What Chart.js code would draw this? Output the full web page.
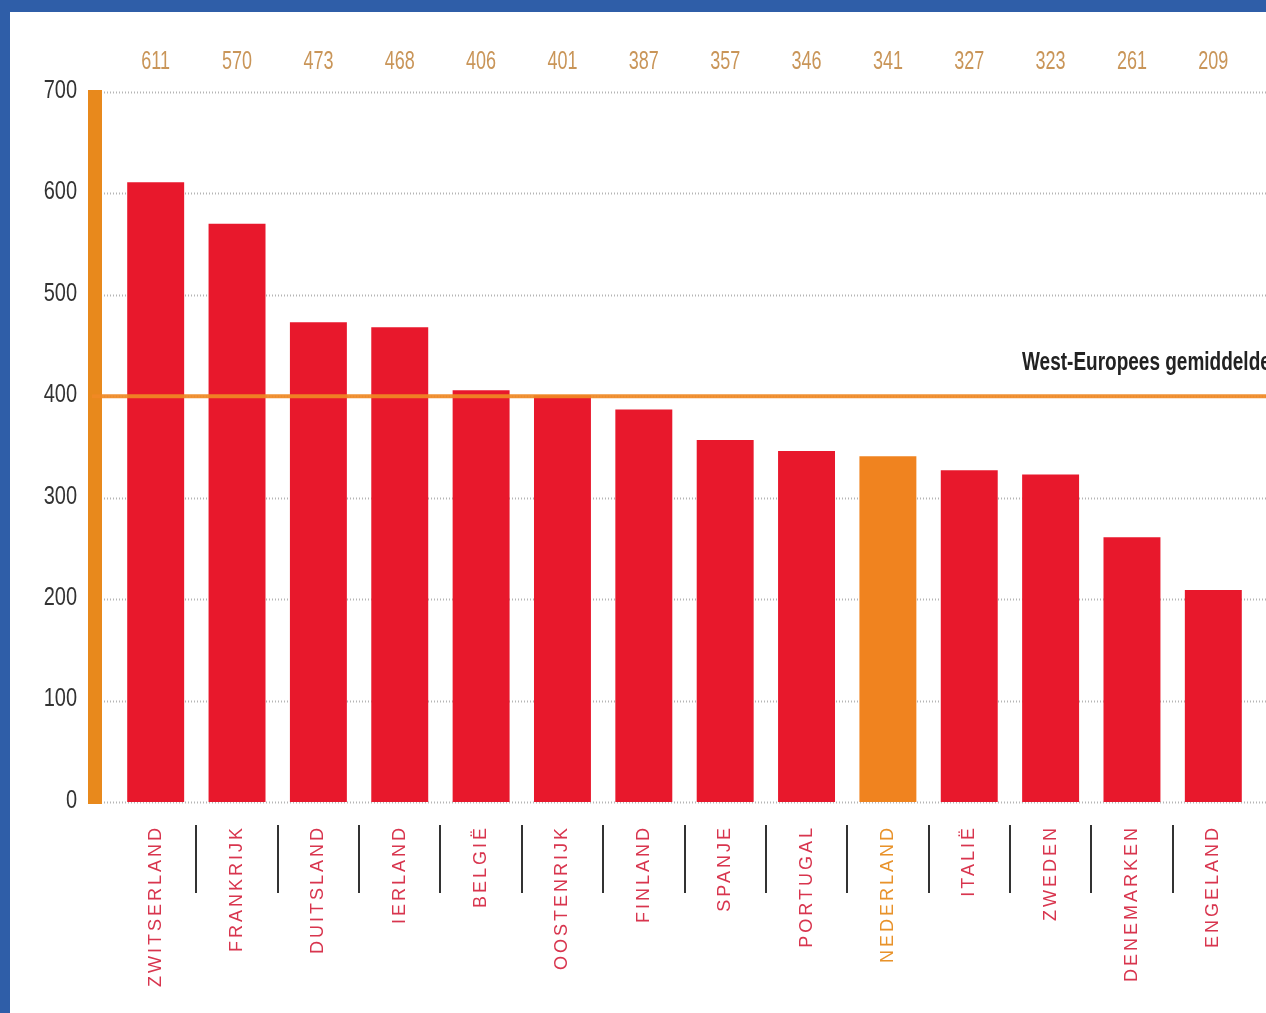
<!DOCTYPE html>
<html>
<head>
<meta charset="utf-8">
<script src="https://cdn.jsdelivr.net/npm/chart.js@4"></script>
<style>
  html, body { margin: 0; padding: 0; }
  body { background: #2f5ea8; width: 1266px; height: 1013px; overflow: hidden; position: relative; }
  #frame { position: absolute; left: 10px; top: 12px; width: 1256px; height: 1001px; background: #fff; }
</style>
</head>
<body>
<div id="frame"><canvas id="chart"></canvas></div>
<script>
const COUNTRIES = ['ZWITSERLAND', 'FRANKRIJK', 'DUITSLAND', 'IERLAND', 'BELGIË', 'OOSTENRIJK', 'FINLAND',
  'SPANJE', 'PORTUGAL', 'NEDERLAND', 'ITALIË', 'ZWEDEN', 'DENEMARKEN', 'ENGELAND'];
const VALUES = [611, 570, 473, 468, 406, 401, 387, 357, 346, 341, 327, 323, 261, 209];
const HIGHLIGHT = 'NEDERLAND';
const AVERAGE = 400;
const AVERAGE_LABEL = 'West-Europees gemiddelde';
const Y_TICKS = [0, 100, 200, 300, 400, 500, 600, 700];

const RED = '#e8182c';
const ORANGE = '#f0831f';
const AXIS_ORANGE = '#e8891c';
const SANS = '"Liberation Sans", Arial, sans-serif';

// squeeze text horizontally to get a condensed look
function narrowText(ctx, text, x, y, sx) {
  ctx.save();
  ctx.translate(x, y);
  ctx.scale(sx, 1);
  ctx.fillText(text, 0, 0);
  ctx.restore();
}

// dotted guides, orange axis bar, average line and all the hand-placed texts
const decorations = {
  id: 'decorations',
  beforeDatasetsDraw(chart) {
    const { ctx, scales: { y }, width } = chart;
    ctx.save();
    ctx.strokeStyle = '#b5b5b5';
    ctx.lineWidth = 2;
    ctx.setLineDash([1, 2]);
    Y_TICKS.forEach(v => {
      const py = Math.round(y.getPixelForValue(v)) + 0.5;
      ctx.beginPath();
      ctx.moveTo(94, py);
      ctx.lineTo(width, py);
      ctx.stroke();
    });
    ctx.setLineDash([]);
    const top = y.getPixelForValue(Y_TICKS[Y_TICKS.length - 1]) - 2;
    const bottom = y.getPixelForValue(0) + 2;
    ctx.fillStyle = AXIS_ORANGE;
    ctx.fillRect(78, top, 14, bottom - top);

    // y tick labels
    ctx.fillStyle = '#333';
    ctx.font = `25px ${SANS}`;
    ctx.textAlign = 'right';
    ctx.textBaseline = 'middle';
    Y_TICKS.forEach(v => narrowText(ctx, String(v), 67, y.getPixelForValue(v) - 1, 0.8));
    ctx.restore();
  },
  afterDatasetsDraw(chart) {
    const { ctx, scales: { x, y }, width } = chart;
    ctx.save();

    // average line over the bars
    const ay = y.getPixelForValue(AVERAGE);
    ctx.strokeStyle = 'rgba(240,137,36,0.92)';
    ctx.lineWidth = 4;
    ctx.beginPath();
    ctx.moveTo(82, ay);
    ctx.lineTo(width, ay);
    ctx.stroke();

    ctx.fillStyle = '#222';
    ctx.font = `bold 25px ${SANS}`;
    ctx.textAlign = 'left';
    ctx.textBaseline = 'middle';
    narrowText(ctx, AVERAGE_LABEL, 1012, ay - 33, 0.76);

    // values above the plot
    ctx.font = `25px ${SANS}`;
    ctx.textAlign = 'center';
    ctx.fillStyle = '#c99558';
    VALUES.forEach((v, i) => narrowText(ctx, String(v), x.getPixelForValue(i), 50, 0.72));

    // rotated country names
    const labelTop = y.getPixelForValue(0) + 23;
    ctx.font = `18px ${SANS}`;
    ctx.letterSpacing = '3px';
    ctx.textAlign = 'right';
    COUNTRIES.forEach((name, i) => {
      ctx.save();
      ctx.translate(x.getPixelForValue(i), labelTop);
      ctx.rotate(-Math.PI / 2);
      ctx.fillStyle = name === HIGHLIGHT ? '#e8922a' : '#d8354e';
      ctx.fillText(name, 0, 0);
      ctx.restore();
    });
    ctx.letterSpacing = '0px';

    // separators between countries
    ctx.strokeStyle = '#333';
    ctx.lineWidth = 2;
    for (let i = 0; i < COUNTRIES.length - 1; i++) {
      const sx = Math.round((x.getPixelForValue(i) + x.getPixelForValue(i + 1)) / 2);
      ctx.beginPath();
      ctx.moveTo(sx, labelTop);
      ctx.lineTo(sx, labelTop + 68);
      ctx.stroke();
    }
    ctx.restore();
  },
};

new Chart(document.getElementById('chart'), {
  type: 'bar',
  data: {
    labels: COUNTRIES,
    datasets: [{
      data: VALUES,
      backgroundColor: COUNTRIES.map(c => c === HIGHLIGHT ? ORANGE : RED),
      barPercentage: 0.7,
      categoryPercentage: 1,
    }],
  },
  options: {
    responsive: true,
    maintainAspectRatio: false,
    animation: false,
    layout: { padding: { left: 0, right: 12, top: 80, bottom: 211 } },
    plugins: { legend: { display: false }, tooltip: { enabled: false } },
    scales: {
      x: { display: false },
      y: {
        min: 0,
        max: 700,
        grid: { display: false },
        border: { display: false },
        afterFit(scale) { scale.width = 105; },
        ticks: { display: false, stepSize: 100 },
      },
    },
  },
  plugins: [decorations],
});
</script>
</body>
</html>
